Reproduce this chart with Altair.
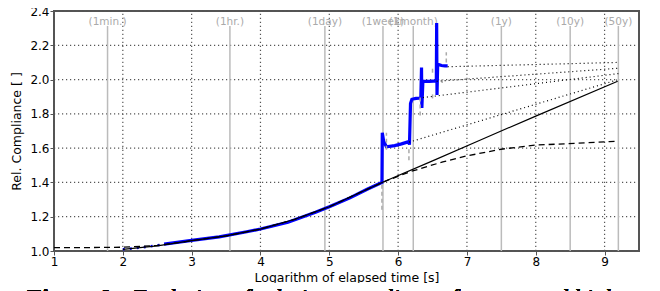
import altair as alt
import pandas as pd

# ---------------- data ----------------
x_ticks = [1, 2, 3, 4, 5, 6, 7, 8, 9]
y_ticks = [1.0, 1.2, 1.4, 1.6, 1.8, 2.0, 2.2, 2.4]

marker_labels = ["(1min.)", "(1hr.)", "(1day)", "(1week)", "(1month)", "(1y)", "(10y)", "(50y)"]
marker_x = [1.778, 3.556, 4.936, 5.78, 6.22, 7.50, 8.50, 9.20]
marker_top = 2.313
marker_label_y = 2.338

blue_dot_x = [2.0, 2.15, 2.3, 2.45, 2.6]
blue_dot_y = [1.010, 1.015, 1.022, 1.030, 1.040]

blue_x = [2.6, 3.0, 3.4, 3.8, 4.0, 4.4, 4.8, 5.0, 5.3, 5.55, 5.765,
          5.77, 5.79, 5.83, 5.95, 6.05, 6.155, 6.165, 6.18, 6.20, 6.26, 6.33,
          6.34, 6.345, 6.36, 6.45, 6.555, 6.56, 6.565, 6.575, 6.63, 6.68, 6.72]
blue_y = [1.040, 1.062, 1.082, 1.112, 1.128, 1.168, 1.226, 1.258, 1.310, 1.360, 1.400,
          1.690, 1.640, 1.608, 1.615, 1.625, 1.638, 1.620, 1.860, 1.885, 1.890, 1.892,
          2.070, 1.834, 1.990, 1.990, 1.992, 2.330, 1.910, 2.090, 2.082, 2.080, 2.080]

solid_x = [2.0, 2.5, 3.0, 3.5, 4.0, 4.5, 5.0, 5.44, 5.8, 6.5, 7.18, 8.0, 9.19]
solid_y = [1.010, 1.030, 1.060, 1.088, 1.128, 1.185, 1.258, 1.340, 1.405, 1.526, 1.645, 1.787, 1.990]

dashed_x = [1.0, 1.5, 2.0, 2.5, 3.0, 3.5, 4.0, 4.5, 5.0, 5.44, 5.8, 6.17, 6.65, 7.0, 7.52, 8.0, 8.58, 9.07, 9.15]
dashed_y = [1.020, 1.020, 1.022, 1.032, 1.060, 1.088, 1.128, 1.185, 1.258, 1.340, 1.405, 1.462,
            1.520, 1.555, 1.595, 1.618, 1.628, 1.638, 1.640]

dotted_id = [1, 1, 2, 2, 3, 3, 4, 4]
dotted_x = [6.16, 9.20, 6.36, 9.20, 6.56, 9.20, 6.72, 9.20]
dotted_y = [1.635, 2.000, 1.895, 2.035, 1.990, 2.066, 2.075, 2.100]

gray_x = [5.765, 5.83, 6.157, 6.32, 6.50, 6.50, 6.64, 6.70]
gray_y1 = [1.24, 1.59, 1.53, 1.79, 1.89, 2.04, 1.98, 2.10]
gray_y2 = [1.40, 1.69, 1.60, 1.90, 1.92, 2.07, 2.01, 2.16]

caption_bold = "Figure 9:"
caption_rest = "Evolution of relative compliance for repeated high"

# ---------------- tables (all use the field names x / y) ----------------
n_m = len(marker_x)
mlines_df = pd.DataFrame({"x": marker_x, "y": [marker_top] * n_m, "y2": [1.0] * n_m})
mtext_df = pd.DataFrame({"x": marker_x, "y": [marker_label_y] * n_m, "label": marker_labels})
gridx = pd.DataFrame({"x": x_ticks, "y": [1.0] * len(x_ticks), "y2": [2.4] * len(x_ticks)})
gridy = pd.DataFrame({"y": y_ticks, "x": [1.0] * len(y_ticks), "x2": [9.5] * len(y_ticks)})
blue_dot = pd.DataFrame({"x": blue_dot_x, "y": blue_dot_y})
blue = pd.DataFrame({"x": blue_x, "y": blue_y, "i": list(range(len(blue_x)))})
solid = pd.DataFrame({"x": solid_x, "y": solid_y})
dashed = pd.DataFrame({"x": dashed_x, "y": dashed_y})
dotted = pd.DataFrame({"id": dotted_id, "x": dotted_x, "y": dotted_y})
gray = pd.DataFrame({"x": gray_x, "y": gray_y1, "y2": gray_y2})

FONT = "DejaVu Sans"
xscale = alt.Scale(domain=[1, 9.5], nice=False, zero=False)
yscale = alt.Scale(domain=[1.0, 2.4], nice=False, zero=False)

X = alt.X("x:Q", scale=xscale,
          axis=alt.Axis(values=x_ticks, format="d", title="Logarithm of elapsed time [s]",
                        labelOverlap=False, labelFlush=False))
Y = alt.Y("y:Q", scale=yscale,
          axis=alt.Axis(values=y_ticks, format=".1f", title="Rel. Compliance [ ]",
                        labelOverlap=False, labelFlush=False))

GRID = dict(color="#555555", strokeWidth=1.2, strokeDash=[1.2, 2.8], opacity=1)
gy = alt.Chart(gridy).mark_rule(**GRID).encode(x=X, x2="x2:Q", y=Y)
gx = alt.Chart(gridx).mark_rule(**GRID).encode(x=X, y=Y, y2="y2:Q")

mlines = alt.Chart(mlines_df).mark_rule(color="#bbbbbb", strokeWidth=1.5).encode(x=X, y=Y, y2="y2:Q")
mtext = alt.Chart(mtext_df).mark_text(color="#aaaaaa", font=FONT, fontSize=10.5,
                                      baseline="middle", align="center").encode(
    x=X, y=Y, text="label:N")

bdot = alt.Chart(blue_dot).mark_line(color="#0000ff", strokeWidth=2.5, strokeDash=[2, 5]).encode(x=X, y=Y)
bline = alt.Chart(blue).mark_line(color="#0000ff", strokeWidth=3.2).encode(x=X, y=Y, order="i:Q")
grays = alt.Chart(gray).mark_rule(color="#aaaaaa", strokeWidth=1.5, strokeDash=[4, 3]).encode(
    x=X, y=Y, y2="y2:Q")
sline = alt.Chart(solid).mark_line(color="black", strokeWidth=1.2).encode(x=X, y=Y)
dline = alt.Chart(dashed).mark_line(color="black", strokeWidth=1.3, strokeDash=[6, 4]).encode(x=X, y=Y)
dots = alt.Chart(dotted).mark_line(color="black", strokeWidth=1.2, strokeDash=[1, 3]).encode(
    x=X, y=Y, detail="id:N")

cover = alt.Chart(mtext_df).mark_rect(color="white").encode(
    x=alt.value(-60), x2=alt.value(595), y=alt.value(272), y2=alt.value(300))
cap1 = alt.Chart(mtext_df).mark_text(text=caption_bold, font="Liberation Serif", fontSize=24,
                                     fontWeight="bold", fontStyle="italic", align="left",
                                     baseline="alphabetic", color="black").encode(
    x=alt.value(-29), y=alt.value(294))
cap2 = alt.Chart(mtext_df).mark_text(text=caption_rest, font="Liberation Serif", fontSize=24,
                                     fontStyle="italic", align="left",
                                     baseline="alphabetic", color="black").encode(
    x=alt.value(78), y=alt.value(294))

chart = alt.layer(gy, gx, mlines, mtext, bdot, bline, grays, sline, dline, dots, cover, cap1, cap2).properties(
    width=585, height=240,
    autosize=alt.AutoSizeParams(type="none"),
    padding={"left": 46, "top": 3, "right": 5, "bottom": 40},
).configure_view(stroke="#555555", strokeWidth=2).configure_axis(
    labelFont=FONT, titleFont=FONT, labelFontSize=12, titleFontSize=12.5,
    labelColor="black", titleColor="black", titleFontWeight="normal",
    domain=False, tickColor="#555555", tickSize=4, labelPadding=1,
    grid=False,
).configure_axisX(titlePadding=4).configure_axisY(titlePadding=6)

chart.save("out.html", embed_options={"renderer": "svg", "actions": False})
